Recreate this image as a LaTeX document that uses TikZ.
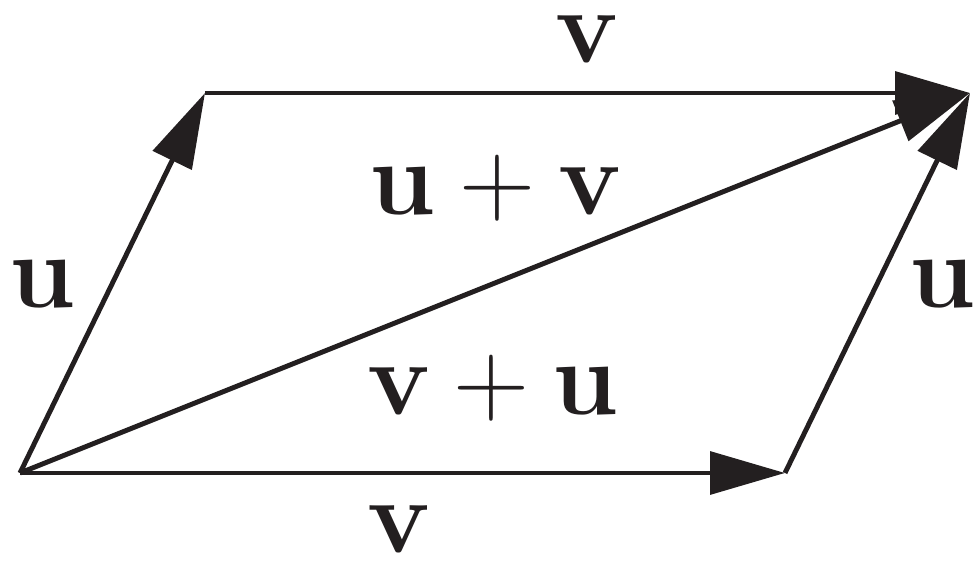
\documentclass[tikz,border=0pt]{standalone}
\usepackage{amsmath,amssymb,bm}
\usepackage{xcolor}
\usepackage{tikz}
\usetikzlibrary{arrows.meta,positioning,calc}
\definecolor{ink}{RGB}{35,31,32}
\newcommand{\vu}{\textbf{u}}
\newcommand{\vv}{\textbf{v}}
\newcommand{\vplus}{\hspace{0.222em}+\hspace{0.222em}}

\begin{document}
\begin{tikzpicture}[
  font=\fontsize{60}{68}\selectfont,
  vec/.style={->,draw=ink,line width=2.8pt},
  lbl/.style={inner sep=0pt,anchor=base,text=ink},
  >={Triangle[length=1.5cm,width=0.85cm]}
]
\useasboundingbox (0,0) rectangle (19.6,11.26);
% corners
\coordinate (O) at (0.4,1.8);
\coordinate (A) at (4.1,9.4);
\coordinate (B) at (15.7,1.8);
\coordinate (C) at (19.4,9.4);
% vectors
\draw[vec] (O) -- (A);
\draw[vec] (O) -- (B);
\draw[vec] (A) -- (C);
\draw[vec] (B) -- (C);
\draw[vec] (O) -- (C);
% labels
\node[lbl] (vtop) at (11.74,10.0) {\vv};
\node[lbl] (vbot) at (7.98,0.2) {\vv};
\node[lbl] (uleft) at (0.84,5.10) {\vu};
\node[lbl] (uright) at (18.84,5.10) {\vu};
\node[lbl] (upv) at (9.91,6.96) {\vu\vplus\vv};
\node[lbl] (vpu) at (9.86,2.96) {\vv\vplus\vu};
\end{tikzpicture}
\end{document}
